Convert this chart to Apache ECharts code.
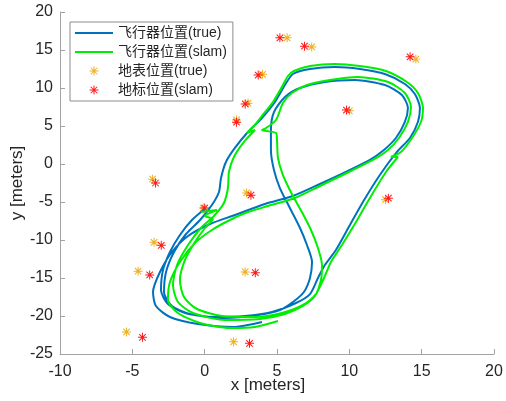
<!DOCTYPE html>
<html>
<head>
<meta charset="utf-8">
<script src="https://cdn.jsdelivr.net/npm/echarts@6/dist/echarts.min.js"></script>
<style>
html, body { margin: 0; padding: 0; background: #fff; }
#chart { width: 506px; height: 401px; }
</style>
</head>
<body>
<div id="chart"></div>
<script>
// 飞行器位置(true) 轨迹
const trueX = [0.0, -0.88, -1.71, -2.40, -2.88, -3.02, -2.54, -1.36, 0.71, 2.79, 4.65, 6.31, 7.28, 7.83, 8.31, 9.07, 10.04, 10.94, 12.11, 13.29, 14.19, 14.74, 14.88, 14.53, 13.84, 12.46, 10.73, 9.0, 7.28, 6.10, 5.55, 4.86, 3.96, 2.99, 2.09, 1.47, 1.13, 0.99, 0.50,
  -0.32, -1.29, -2.12, -2.67, -2.81, -2.26, -1.02, 1.40, 3.68, 5.20, 6.10, 6.86, 7.28, 7.42, 7.07, 6.59, 5.89, 5.20, 4.79, 4.58, 4.58, 4.79, 5.55, 6.59, 8.31, 10.39, 12.46, 13.63, 14.05, 13.84, 13.22, 12.39, 11.42, 9.76, 7.97, 6.10, 4.17, 2.09,
  0.37, -1.15, -2.26, -3.09, -3.57, -3.37, -2.40, -0.46, 1.96, 3.96]
const trueY = [-5.92, -7.37, -9.34, -11.58, -13.95, -16.58, -18.42, -19.61, -20.13, -20.0, -19.47, -18.29, -17.11, -15.0, -13.29, -11.32, -8.03, -5.0, -1.45, 1.58, 3.42, 5.53, 7.37, 9.21, 10.53, 11.84, 12.5, 12.76, 12.5, 11.84, 10.39, 8.16, 6.05, 4.21, 2.11, 0.26, -1.84, -3.68, -5.39,
  -7.37, -9.21, -11.58, -14.21, -16.84, -18.68, -19.74, -20.26, -19.87, -19.21, -18.16, -16.84, -15.0, -12.89, -10.66, -8.42, -5.79, -3.16, -0.79, 1.84, 4.47, 6.84, 8.82, 10.0, 10.79, 11.05, 10.39, 9.08, 7.37, 5.53, 3.42, 1.84, 0.53, -1.05, -2.63, -4.21, -5.26, -6.71,
  -7.89, -9.47, -11.58, -14.21, -16.84, -18.68, -20.13, -21.05, -21.45, -20.79]

// 飞行器位置(slam) 轨迹
const slamX = [-0.26, 0.85, 0.02, 0.57, 0.02, -0.67, -1.36, -1.71, -1.43, -0.53, 1.20, 3.48, 5.34, 6.79, 7.69, 8.25, 8.73, 9.49, 10.46, 11.42,
  12.53, 13.36, 12.87, 13.57, 14.33, 14.95, 15.09, 14.74, 13.98, 12.53, 10.73, 9.00, 7.28, 6.17, 5.76, 5.41, 4.72, 3.96, 3.48, 2.92,
  3.48, 2.65, 2.02, 1.68, 1.61, 1.33, 0.64, -0.26, -1.15, -1.91, -2.19, -1.85, -0.81, 1.40, 3.82, 5.55, 6.79, 7.62, 8.04, 8.11,
  7.83, 7.35, 6.72, 6.03, 5.41, 5.07, 5.00, 4.93, 3.96, 4.24, 4.93, 5.41, 6.03, 7.07, 8.66, 10.59, 12.67, 13.84, 14.26, 14.05,
  13.43, 12.67, 11.63, 9.97, 8.11, 6.24, 4.37, 2.99, 1.75, 0.50, -0.67, -1.71, -2.40, -2.54, -1.85, -0.32, 1.75, 3.48, 5.07]
const slamY = [-6.32, -6.05, -6.84, -7.24, -8.42, -10.26, -12.63, -15.26, -17.50, -19.08, -20.0, -20.13, -19.61, -18.55, -17.11, -15.0, -12.89, -10.66, -7.63, -4.47,
  -1.05, 0.92, 0.92, 1.58, 3.42, 5.53, 7.37, 9.34, 10.79, 12.24, 12.89, 13.16, 12.89, 12.24, 11.58, 10.39, 8.16, 6.32, 5.13, 4.08,
  4.47, 2.76, 0.92, -1.05, -3.16, -5.13, -6.84, -8.42, -10.66, -13.29, -15.92, -18.16, -19.61, -20.53, -20.39, -19.74, -18.68, -17.37, -15.26, -13.29,
  -11.05, -8.68, -6.32, -3.95, -1.45, 0.79, 3.16, 4.08, 4.47, 4.74, 5.79, 8.03, 9.34, 10.39, 11.05, 11.45, 10.79, 9.34, 7.50, 5.53,
  3.42, 1.84, 0.53, -1.05, -2.76, -4.47, -5.53, -6.32, -7.37, -8.68, -10.39, -12.89, -15.53, -17.89, -19.61, -20.92, -21.58, -21.45, -20.66]

// 地标
const markTrueX = [5.7, 7.4, 14.6, 4.0, 3.0, 2.2, 10.0, -3.6, 2.9, 12.5, -0.1, -3.5, -4.6, 2.8, -5.4, 2.0]
const markTrueY = [16.6, 15.4, 13.8, 11.8, 8.0, 5.8, 7.0, -2.0, -3.8, -4.7, -5.8, -10.3, -14.1, -14.2, -22.1, -23.4]
const markSlamX = [5.2, 6.9, 14.2, 3.7, 2.8, 2.2, 9.8, -3.4, 3.2, 12.7, 0.0, -3.0, -3.8, 3.5, -4.3, 3.1]
const markSlamY = [16.6, 15.5, 14.1, 11.7, 7.9, 5.5, 7.1, -2.5, -4.1, -4.5, -5.8, -10.7, -14.6, -14.3, -22.8, -23.6]

const names = ['飞行器位置(true)', '飞行器位置(slam)', '地表位置(true)', '地标位置(slam)']

const zip = (xs, ys) => xs.map((x, i) => [x, ys[i]])

// matlab 的 '*' 标记
const star = 'path://M-0.11,-1L0.11,-1L0.11,1L-0.11,1Z M-1,-0.11L1,-0.11L1,0.11L-1,0.11Z M-0.8,-0.64L-0.64,-0.8L0.8,0.64L0.64,0.8Z M0.64,-0.8L0.8,-0.64L-0.64,0.8L-0.8,0.64Z'
const lineIcon = 'path://M0,0L38,0L38,2.2L0,2.2Z'

const font = 'Liberation Sans, Arial, Noto Sans CJK SC'
const axisColor = '#a3a3a3'
const textColor = '#262626'

const chart = echarts.init(document.getElementById('chart'))
chart.setOption({
  animation: false,
  backgroundColor: '#fff',
  grid: { left: 60, right: 12, top: 12, bottom: 47, containLabel: false, outerBoundsMode: 'none' },
  legend: {
    orient: 'vertical',
    left: 70,
    top: 22,
    padding: [3, 6, 3, 5],
    itemGap: 3,
    itemWidth: 38,
    itemHeight: 9,
    backgroundColor: '#fff',
    borderColor: '#8c8c8c',
    borderWidth: 1,
    borderRadius: 0,
    textStyle: { fontFamily: font, fontSize: 14, color: textColor, lineHeight: 16 },
    data: [
      { name: names[0], icon: lineIcon },
      { name: names[1], icon: lineIcon },
      { name: names[2], icon: star },
      { name: names[3], icon: star }
    ]
  },
  xAxis: {
    type: 'value',
    min: -10, max: 20, interval: 5,
    name: 'x [meters]',
    nameLocation: 'middle',
    nameGap: 23,
    nameMoveOverlap: false,
    nameTextStyle: { fontFamily: font, fontSize: 17, color: textColor, padding: [0, 18, 0, 0] },
    axisLine: { onZero: false, lineStyle: { color: axisColor, width: 1 } },
    axisTick: { inside: true, length: 5, lineStyle: { color: axisColor } },
    axisLabel: { fontFamily: font, fontSize: 16, color: textColor, margin: 10 },
    splitLine: { show: false }
  },
  yAxis: {
    type: 'value',
    min: -25, max: 20, interval: 5,
    name: 'y [meters]',
    nameLocation: 'middle',
    nameGap: 34,
    nameMoveOverlap: false,
    nameTextStyle: { fontFamily: font, fontSize: 17, color: textColor },
    axisLine: { show: true, onZero: false, lineStyle: { color: axisColor, width: 1 } },
    axisTick: { show: true, inside: true, length: 5, lineStyle: { color: axisColor } },
    axisLabel: { fontFamily: font, fontSize: 16, color: textColor, margin: 7 },
    splitLine: { show: false }
  },
  series: [
    {
      name: names[0], type: 'line', data: zip(trueX, trueY),
      showSymbol: false, symbol: 'none', smooth: 0.25,
      lineStyle: { color: '#0072BD', width: 2 }, itemStyle: { color: '#0072BD' }
    },
    {
      name: names[1], type: 'line', data: zip(slamX, slamY),
      showSymbol: false, symbol: 'none', smooth: 0.25,
      lineStyle: { color: '#00ee00', width: 2 }, itemStyle: { color: '#00ee00' }
    },
    {
      name: names[2], type: 'scatter', data: zip(markTrueX, markTrueY),
      symbol: star, symbolSize: 9, itemStyle: { color: '#EDB120', opacity: 1 }
    },
    {
      name: names[3], type: 'scatter', data: zip(markSlamX, markSlamY),
      symbol: star, symbolSize: 9, itemStyle: { color: '#ff1a1a', opacity: 1 }
    }
  ]
})
</script>
</body>
</html>
